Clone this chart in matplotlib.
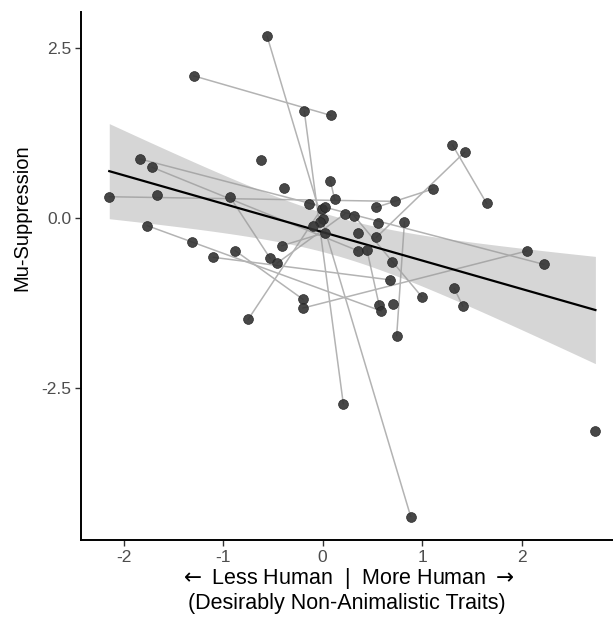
import numpy as np
import matplotlib.pyplot as plt

plt.rcParams['font.family'] = ['Liberation Sans', 'DejaVu Sans']

# Точки (x - человечность, y - подавление мю-ритма)
x = [-0.557, -1.295, -0.184, 0.081, -1.836, -1.712, -0.617, -2.145, -1.662, -0.933,
     0.078, -0.386, 0.121, -0.137, 0.225, -0.010, 0.020, 0.007, -0.023, -0.100,
     0.024, -1.762, -1.309, -0.409, -0.879, -1.098, -0.527, -0.456, 1.306, 1.427,
     1.108, 1.649, 0.725, 0.538, 0.319, 0.554, 0.823, 0.353, 0.541, 0.353,
     0.447, 0.695, 2.054, 2.223, 0.682, -0.197, -0.197, -0.748, 0.208, 0.997,
     1.323, 1.410, 0.568, 0.591, 0.709, 0.745, 0.886, 2.743]
y = [2.670, 2.090, 1.570, 1.510, 0.868, 0.745, 0.858, 0.313, 0.338, 0.313,
     0.549, 0.441, 0.275, 0.206, 0.063, 0.137, 0.160, -0.010, -0.064, -0.113,
     -0.216, -0.113, -0.348, -0.407, -0.480, -0.578, -0.593, -0.662, 1.074, 0.966,
     0.426, 0.216, 0.245, 0.157, 0.029, -0.078, -0.059, -0.225, -0.284, -0.480,
     -0.475, -0.652, -0.485, -0.681, -0.910, -1.196, -1.324, -1.490, -2.730, -1.157,
     -1.034, -1.294, -1.279, -1.368, -1.260, -1.730, -4.390, -3.137]

# Пары точек, соединённые серыми линиями (индексы в x, y)
pairs = [(1, 3), (0, 56), (2, 48), (28, 31), (29, 38), (10, 12), (9, 26), (7, 32),
         (25, 44), (24, 45), (46, 42), (47, 15), (21, 53), (4, 43), (5, 39), (30, 33),
         (36, 55), (34, 49), (50, 51), (40, 52), (27, 14), (23, 20)]

x = np.array(x)
y = np.array(y)

fig = plt.figure(figsize=(6.13, 6.17), dpi=100)
ax = fig.add_axes([0.132, 0.1248, 0.868, 0.8558])

for i, j in pairs:
    ax.plot([x[i], x[j]], [y[i], y[j]], color='#b3b3b3', linewidth=1.1, zorder=1)

# Линейная регрессия с 95% доверительным интервалом
n = len(x)
k, b0 = np.polyfit(x, y, 1)
xs = np.linspace(x.min(), x.max(), 100)
ys = k * xs + b0
resid = y - (k * x + b0)
s = np.sqrt(np.sum(resid**2) / (n - 2))
se = s * np.sqrt(1 / n + (xs - x.mean())**2 / np.sum((x - x.mean())**2))
t = 2.003
ax.fill_between(xs, ys - t * se, ys + t * se, color='#999999', alpha=0.4,
                linewidth=0, zorder=2)
ax.plot(xs, ys, color='black', linewidth=1.6, zorder=3)

ax.scatter(x, y, s=50, color='#333333', alpha=0.9, edgecolors='#222222',
           linewidths=0.5, zorder=4)

ax.set_xlim(-2.43, 2.92)
ax.set_ylim(-4.735, 3.03)
ax.set_xticks([-2, -1, 0, 1, 2])
ax.set_yticks([2.5, 0.0, -2.5])
ax.set_yticklabels(['2.5', '0.0', '-2.5'])
ax.set_xticklabels(['-2', '-1', '0', '1', '2'])

for side in ['top', 'right']:
    ax.spines[side].set_visible(False)
for side in ['left', 'bottom']:
    ax.spines[side].set_linewidth(1.4)
ax.tick_params(length=4, width=1.0, color='#333333', labelsize=12.5,
               labelcolor='#4d4d4d', pad=3)

ax.set_xlabel(r'$\leftarrow$ Less Human  |  More Human $\rightarrow$' + '\n(Desirably Non-Animalistic Traits)',
              fontsize=15.5, linespacing=1.1)
ax.xaxis.set_label_coords(0.5, -0.05, transform=ax.transAxes)
ax.xaxis.label.set_va('top')
ax.set_ylabel('Mu-Suppression', fontsize=14.5)
ax.yaxis.set_label_coords(-0.093, 0.61)

fig.savefig('out.png', dpi=100)
